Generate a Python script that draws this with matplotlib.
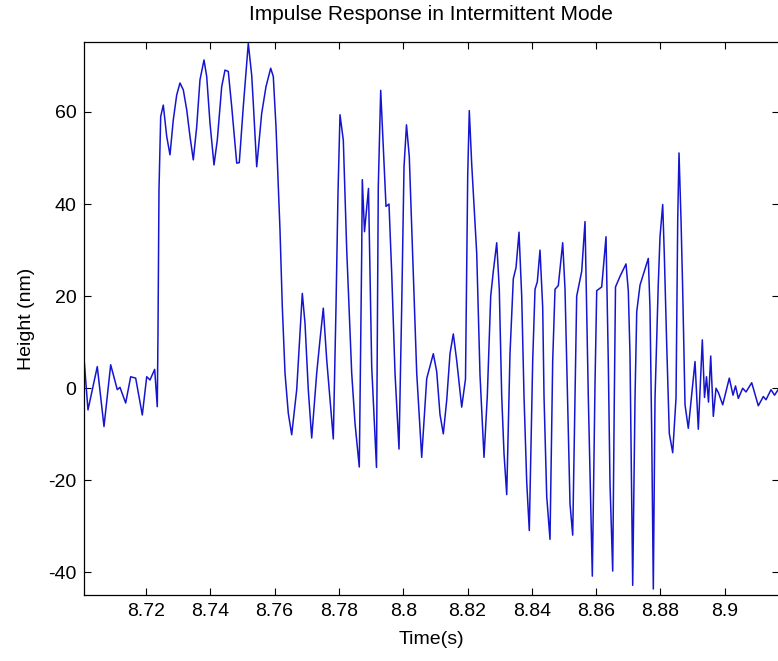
import numpy as np
import matplotlib
matplotlib.use("Agg")
import matplotlib.pyplot as plt

# time offset from 8.70 s, in milliseconds
time_ms = [0.72, 1.96, 3.30, 4.85, 6.94, 9.02, 11.07, 11.91, 13.68, 15.24,
           16.79, 18.85, 20.22, 21.24, 22.70, 23.51, 23.73, 24.04, 24.57, 25.38,
           26.44, 27.46, 28.49, 29.55, 30.57, 31.60, 32.66, 33.68, 34.71, 35.77,
           36.79, 38.04, 38.88, 39.90, 41.15, 42.17, 43.54, 44.57, 45.59, 46.65,
           48.21, 49.01, 50.26, 51.81, 52.87, 53.37, 54.43, 55.98, 57.32, 58.78,
           59.59, 60.43, 61.67, 62.39, 63.23, 64.25, 65.31,
           66.87, 68.61, 69.45, 70.47, 71.53, 73.09, 74.11, 75.14, 76.20, 78.25,
           79.09, 79.71, 80.33, 81.36, 82.42, 83.97, 85.00, 86.33,
           87.08, 87.27, 87.95, 89.19, 89.66, 90.19, 91.68,
           92.24, 92.99, 93.80, 94.64, 95.57, 96.41, 97.44, 98.68,
           99.52, 100.24, 101.01, 101.88, 103.13, 104.19, 105.74,
           107.30, 109.35, 110.41, 111.43, 112.46, 113.52, 114.54, 115.57, 116.63,
           118.18, 119.36, 120.05, 120.54, 121.29, 122.85, 123.87, 125.12,
           126.14, 127.20, 128.01, 129.07, 129.87, 130.62, 131.34, 132.18,
           133.20, 134.23, 135.07, 136.00, 136.84, 137.56, 138.40, 139.20,
           140.26, 140.98, 141.69, 142.53, 143.37, 143.78, 144.62, 145.64,
           146.48, 147.20, 148.22, 149.59, 150.31, 150.83, 151.86, 152.70,
           153.41, 153.94, 155.50, 156.53, 157.55, 158.80,
           159.64, 160.17, 161.72, 163.06, 163.77, 164.30, 165.14,
           165.64, 166.01, 167.41, 169.28, 169.99, 170.52, 171.05, 171.36,
           172.08, 172.61, 173.63, 176.21, 176.74, 177.27, 177.77,
           178.30, 179.32, 179.85, 180.69, 181.19, 181.93, 182.74, 183.80,
           184.83, 185.36, 185.76, 186.38, 186.91, 187.63, 188.65,
           190.74, 191.76, 193.01, 193.69, 194.31, 194.93, 195.62, 196.43,
           197.27, 198.04, 199.35, 201.40, 202.55, 203.33, 204.20, 205.57,
           206.60, 208.37, 210.42, 211.98, 212.82, 214.37, 215.46, 216.70]

height_nm = [6.5, -4.7, -0.3, 4.7, -8.3, 5.1, -0.3, 0.2, -3.2, 2.5,
             2.2, -5.8, 2.5, 1.8, 4.1, -4.0, 12.0, 43.1, 59.0, 61.5,
             54.7, 50.7, 58.3, 63.7, 66.3, 64.8, 60.5, 54.7, 49.6, 56.8,
             67.0, 71.3, 67.7, 57.6, 48.5, 53.9, 65.5, 69.1, 68.8, 61.2,
             48.9, 49.0, 61.2, 74.9, 68.0, 61.9, 48.1, 59.7, 65.5, 69.5,
             67.7, 56.8, 34.4, 17.7, 3.3, -5.4, -10.1,
             -0.3, 20.6, 14.1, -0.3, -10.8, 3.3, 10.5, 17.4, 6.2, -11.0,
             17.7, 42.4, 59.4, 53.9, 30.1, 3.3, -7.6, -17.1,
             29.3, 45.3, 34.0, 43.4, 25.0, 4.7, -17.2,
             43.8, 64.7, 52.5, 39.5, 40.0, 25.0, 3.3, -13.2,
             17.7, 48.1, 57.2, 50.3, 25.0, 3.3, -15.0,
             2.1, 7.5, 3.6, -5.7, -9.9, -2.6, 7.5, 11.8, 6.0,
             -4.1, 2.0, 46.3, 60.3, 48.7, 29.3, 2.9, -15.0,
             -1.7, 20.0, 25.4, 31.6, 21.5, -1.7, -14.2, -23.1,
             7.5, 23.8, 26.2, 33.9, 20.0, -1.8, -20.4, -30.9,
             6.0, 21.5, 23.1, 30.0, 17.6, -1.8, -23.5, -32.8,
             6.0, 21.5, 22.3, 31.6, 21.5, 6.0, -25.1, -31.9,
             -1.8, 20.0, 25.4, 36.2, -1.8, -40.8,
             1.0, 21.2, 22.0, 32.9, 5.7, -20.7, -39.7,
             -2.1, 22.0, 24.3, 27.0, 21.2, 7.2, -25.3, -42.8,
             -2.1, 16.6, 22.4, 28.2, 17.3, -9.8, -43.6,
             -2.1, 22.8, 32.9, 39.9, 29.0, 9.6, -9.8, -14.0,
             -2.1, 36.7, 51.1, 36.7, 21.2, -3.6, -8.7,
             5.8, -8.9, 10.5, -2.0, 2.5, -3.0, 7.0, -6.1,
             0.0, -1.0, -3.6, 2.2, -1.5, 0.5, -2.2, 0.0,
             -0.8, 1.2, -3.8, -1.8, -2.5, -0.3, -1.5, -0.2]

xticks = [8.72, 8.74, 8.76, 8.78, 8.80, 8.82, 8.84, 8.86, 8.88, 8.90]
xticklabels = ['8.72', '8.74', '8.76', '8.78', '8.8', '8.82', '8.84', '8.86', '8.88', '8.9']
yticks = [-40, -20, 0, 20, 40, 60]

t = 8.70 + np.array(time_ms) / 1000.0
h = np.array(height_nm)

plt.rcParams['font.family'] = ['Liberation Sans', 'DejaVu Sans']
plt.rcParams['axes.unicode_minus'] = False

fig = plt.figure(figsize=(7.78, 6.61), dpi=100)
ax = fig.add_axes([84 / 778, 1 - 595 / 661, (778.5 - 84) / 778, (595 - 42) / 661])

ax.plot(t, h, color='#1515d0', linewidth=1.1)

ax.set_xlim(t[0], t[-1])
ax.set_ylim(-44.9, 75.2)
ax.set_xticks(xticks, labels=xticklabels)
ax.set_yticks(yticks)
ax.tick_params(direction='in', top=True, right=True, length=5, width=0.8,
               labelsize=14, pad=5.5)
for s in ax.spines.values():
    s.set_linewidth(0.9)

ax.set_title("Impulse Response in Intermittent Mode", fontsize=15, pad=16)
ax.set_xlabel("Time(s)", fontsize=14, labelpad=8)
ax.set_ylabel("Height (nm)", fontsize=14, labelpad=9)

fig.savefig("out.png", dpi=100)
